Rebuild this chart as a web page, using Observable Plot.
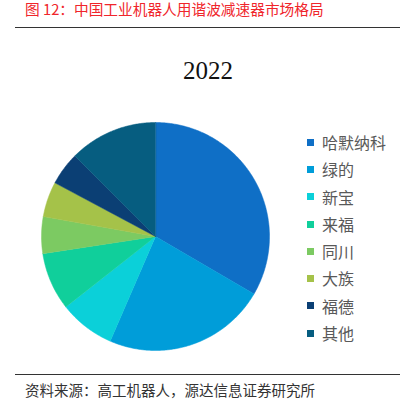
<!DOCTYPE html>
<html><head><meta charset="utf-8">
<script src="https://cdn.jsdelivr.net/npm/d3@7"></script>
<script src="https://cdn.jsdelivr.net/npm/@observablehq/plot@0.6"></script>
<style>
body{margin:0;width:400px;height:399px;position:relative;overflow:hidden;background:#fff;font-family:"Noto Sans CJK SC","Noto Sans",sans-serif;}
#title{position:absolute;left:25px;top:0px;font-size:14.7px;color:#f0252b;line-height:17px;white-space:nowrap}
.rule{position:absolute;left:15px;width:385px;height:0;border-top:1.5px solid #333}
#year{position:absolute;left:108px;width:200px;top:57px;text-align:center;font-family:"Liberation Serif",serif;font-size:25px;line-height:28px;color:#111}
#chart{position:absolute;left:0;top:0}
#legend{position:absolute;left:307px;top:129px}
#legend, #legend *{font-family:"Noto Sans CJK SC",sans-serif;font-size:16px;color:#595959;line-height:26.3px}
#caption{position:absolute;left:25px;top:381px;font-size:14.5px;color:#333;line-height:17px;white-space:nowrap}
</style></head>
<body>
<div id="title">图 12：中国工业机器人用谐波减速器市场格局</div>
<div class="rule" style="top:27px"></div>
<div id="year">2022</div>
<div id="chart"></div>
<div id="legend"></div>
<div class="rule" style="top:374px"></div>
<div id="caption">资料来源：高工机器人，源达信息证券研究所</div>
<script>
const companies = ["哈默纳科","绿的","新宝","来福","同川","大族","福德","其他"];
const shares = [33.4, 23.1, 7.9, 8.2, 5.2, 5.0, 4.7, 12.5];
const colors = ["#0f6fc6","#009dd9","#0bd0d9","#10cf9b","#7cca62","#a5c249","#0b3f74","#065d80"];

const arcs = d3.pie().sort(null).value(d => d)(shares);
const slices = arcs.map((a, i) => {
  const pts = [{x: 0, y: 0}];
  const n = Math.max(2, Math.ceil((a.endAngle - a.startAngle) / 0.01));
  for (let k = 0; k <= n; k++) {
    const t = a.startAngle + (a.endAngle - a.startAngle) * k / n;
    pts.push({x: Math.sin(t), y: Math.cos(t)});
  }
  return {name: companies[i], color: colors[i], pts};
});

const R = 114, cx = 155, cy = 236, W = 400, H = 399;
const chart = Plot.plot({
  width: W, height: H,
  margin: 0,
  x: {domain: [-cx / R, (W - cx) / R], range: [0, W], axis: null},
  y: {domain: [cy / R, (cy - H) / R], range: [0, H], axis: null},
  marks: slices.map(s => Plot.line(s.pts, {x: "x", y: "y", fill: s.color, stroke: s.color, strokeWidth: 0.5, curve: "linear-closed"}))
});
document.getElementById("chart").appendChild(chart);

const legend = Plot.legend({
  color: {type: "ordinal", domain: companies, range: colors},
  legend: "swatches",
  columns: 1,
  swatchSize: 7
});
document.getElementById("legend").appendChild(legend);
</script>
</body></html>
